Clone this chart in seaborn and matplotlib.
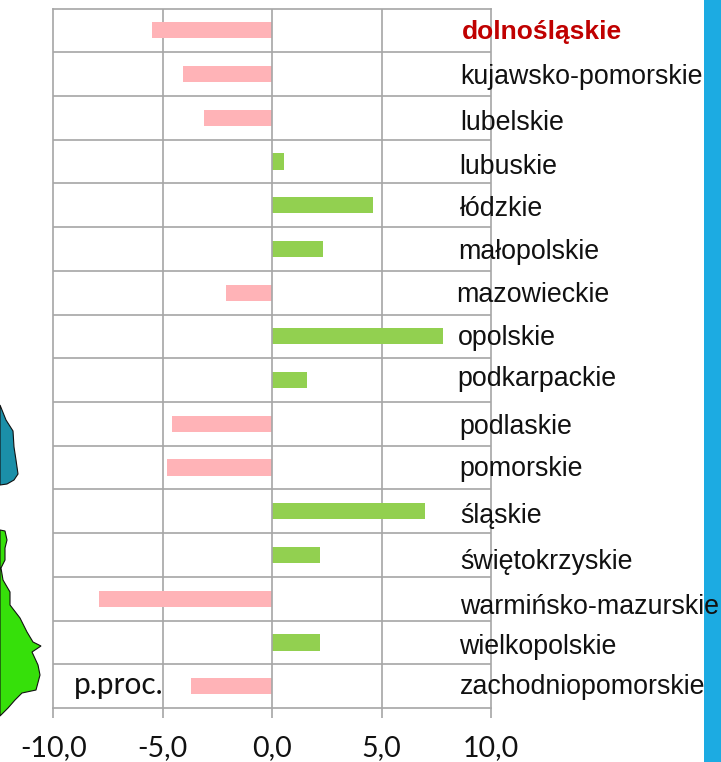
import matplotlib.pyplot as plt
from matplotlib.patches import Polygon, Rectangle
import seaborn as sns

W, H = 721, 762

regions = ["dolnośląskie", "kujawsko-pomorskie", "lubelskie", "lubuskie", "łódzkie",
           "małopolskie", "mazowieckie", "opolskie", "podkarpackie", "podlaskie",
           "pomorskie", "śląskie", "świętokrzyskie", "warmińsko-mazurskie",
           "wielkopolskie", "zachodniopomorskie"]
values = [-5.5, -4.1, -3.1, 0.55, 4.6, 2.3, -2.1, 7.8, 1.6, -4.6, -4.8, 7.0, 2.2, -7.9, 2.2, -3.7]
xticks = [-10, -5, 0, 5, 10]
xticklabels = ["-10,0", "-5,0", "0,0", "5,0", "10,0"]

# label positions are a bit uneven in the original (pixels)
label_x = [462, 460, 460, 459, 460, 458, 456, 458, 457, 459, 459, 460, 460, 460, 459, 460]
label_y = [32, 77, 123, 167, 209, 252, 295, 338, 379, 427, 469, 516, 562, 607, 647, 687]

# bits of the map that stick out on the left (pixels)
map_teal = [(0, 405), (6, 420), (13, 431), (14, 447), (16, 460), (18, 474), (14, 480), (7, 484), (0, 485)]
map_green = [(0, 530), (5, 531), (7, 540), (5, 548), (5, 560), (1, 568), (3, 580), (10, 592), (10, 605),
             (20, 618), (27, 632), (33, 642), (41, 646), (32, 652), (38, 665), (40, 675), (36, 690),
             (22, 693), (15, 700), (8, 708), (0, 716)]

sns.set_theme(style="white")
plt.rcParams['font.family'] = ['Liberation Sans', 'DejaVu Sans']

grid_col = "#a6a6a6"
sign = ["up" if v > 0 else "down" for v in values]

fig = plt.figure(figsize=(W / 100, H / 100), dpi=100)
ax = fig.add_axes([53.5 / W, 1 - 708 / H, (491 - 53.5) / W, (708 - 8.5) / H])

sns.barplot(x=values, y=regions, hue=sign, dodge=False, legend=False, width=0.37, ax=ax,
            palette={"up": "#92d050", "down": "#ffb3b7"}, saturation=1, linewidth=0, zorder=3)

ax.set_xlim(-10, 10)
ax.set_ylim(len(regions) - 0.5, -0.5)
ax.set_xticks(xticks)
ax.set_xticklabels(xticklabels, fontfamily="Lato", fontsize=20.5, color="#111111")
ax.set_yticks([])
ax.set_xlabel("")
ax.set_ylabel("")
ax.tick_params(axis="x", length=7.5, width=1.2, color=grid_col, pad=12, bottom=True)

for x in xticks[1:-1]:
    ax.axvline(x, color=grid_col, lw=1.2, zorder=1 if x else 4)
for i in range(1, len(regions)):
    ax.axhline(i - 0.5, color=grid_col, lw=1.2, zorder=1)
for s in ax.spines.values():
    s.set_visible(True)
    s.set_color(grid_col)
    s.set_linewidth(1.2)

for name, lx, ly in zip(regions, label_x, label_y):
    first = name == regions[0]
    fig.text(lx / W, 1 - ly / H, name, ha="left", va="center", fontsize=19 if first else 19.3,
             color="#c00000" if first else "#111111", fontweight="bold" if first else "normal")

fig.text(74 / W, 1 - 685 / H, "p.proc.", ha="left", va="center", fontfamily="Lato",
         fontsize=21.5, color="#111111")

# side strip and map fragments
px = lambda pts: [(a / W, 1 - b / H) for a, b in pts]
fig.add_artist(Rectangle((704 / W, 0), 17 / W, 1, transform=fig.transFigure, color="#1cabe2", lw=0))
fig.add_artist(Polygon(px(map_teal), closed=True, transform=fig.transFigure, fc="#1b8fa8", ec="#111111", lw=0.8))
fig.add_artist(Polygon(px(map_green), closed=True, transform=fig.transFigure, fc="#36e00a", ec="#111111", lw=0.8))

fig.savefig("out.png", dpi=100)
